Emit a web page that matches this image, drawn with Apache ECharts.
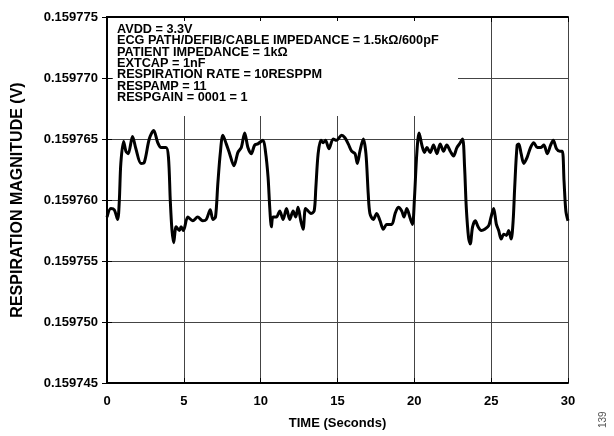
<!DOCTYPE html>
<html>
<head>
<meta charset="utf-8">
<style>
  html, body { margin: 0; padding: 0; background: #fff; }
  #chart { width: 614px; height: 436px; }
</style>
<script src="https://cdn.jsdelivr.net/npm/echarts@6/dist/echarts.min.js"></script>
</head>
<body>
<div id="chart"></div>
<script>
// time (s) and respiration magnitude (V)
const times = [
  0.00, 0.25, 0.47, 0.69, 0.80, 0.90, 1.08, 1.23, 1.38, 1.66, 1.88, 2.21, 2.43, 2.75, 3.04, 3.30, 3.52, 3.84,
  4.00, 4.12, 4.23, 4.34, 4.50, 4.71, 4.82, 4.97, 5.26, 5.58, 5.90, 6.23, 6.46, 6.72, 6.89, 7.06, 7.21, 7.37,
  7.54, 7.76, 7.98, 8.26, 8.52, 8.74, 8.96, 9.17, 9.39, 9.61, 9.82, 10.15, 10.31, 10.48, 10.59, 10.70, 10.80,
  11.02, 11.24, 11.46, 11.68, 11.89, 12.11, 12.28, 12.43, 12.61, 12.76, 12.92, 13.09, 13.26, 13.48, 13.59,
  13.74, 13.92, 14.07, 14.22, 14.44, 14.72, 14.94, 15.27, 15.48, 15.70, 15.92, 16.14, 16.29, 16.46, 16.68,
  16.85, 17.00, 17.11, 17.33, 17.55, 17.77, 17.98, 18.20, 18.53, 18.75, 18.96, 19.18, 19.33, 19.51, 19.73,
  19.88, 20.01, 20.16, 20.31, 20.49, 20.66, 20.82, 21.03, 21.25, 21.47, 21.68, 21.90, 22.11, 22.34, 22.55,
  22.77, 22.94, 23.14, 23.27, 23.38, 23.53, 23.64, 23.79, 23.97, 24.15, 24.36, 24.58, 24.84, 24.99, 25.16,
  25.34, 25.49, 25.65, 25.82, 25.99, 26.14, 26.30, 26.43, 26.53, 26.69, 26.80, 26.95, 27.12, 27.34, 27.56,
  27.77, 28.00, 28.21, 28.43, 28.65, 28.87, 29.04, 29.25, 29.47, 29.63, 29.74, 29.86, 30.00
];
const magnitude = [
  0.1597586, 0.1597593, 0.1597592, 0.1597584, 0.1597599, 0.1597630, 0.1597648, 0.1597640, 0.1597638, 0.1597652,
  0.1597642, 0.1597630, 0.1597631, 0.1597650, 0.1597657, 0.1597647, 0.1597643, 0.1597643,
  0.1597635, 0.1597599, 0.1597575, 0.1597565, 0.1597578, 0.1597575, 0.1597578, 0.1597575, 0.1597586, 0.1597583,
  0.1597586, 0.1597583, 0.1597584, 0.1597592, 0.1597584, 0.1597586, 0.1597613, 0.1597638,
  0.1597653, 0.1597646, 0.1597638, 0.1597628, 0.1597639, 0.1597643, 0.1597655, 0.1597643, 0.1597638, 0.1597645,
  0.1597646, 0.1597649, 0.1597640, 0.1597619, 0.1597594, 0.1597578, 0.1597586,
  0.1597586, 0.1597591, 0.1597584, 0.1597593, 0.1597584, 0.1597591, 0.1597586, 0.1597594, 0.1597583, 0.1597576,
  0.1597593, 0.1597591, 0.1597589, 0.1597591, 0.1597610,
  0.1597638, 0.1597649, 0.1597647, 0.1597649, 0.1597642, 0.1597650, 0.1597649, 0.1597653, 0.1597651, 0.1597646,
  0.1597640, 0.1597638, 0.1597630, 0.1597640, 0.1597650,
  0.1597638, 0.1597605, 0.1597589, 0.1597584, 0.1597589, 0.1597583, 0.1597576, 0.1597580, 0.1597580, 0.1597589,
  0.1597594, 0.1597591, 0.1597586, 0.1597593, 0.1597585,
  0.1597580, 0.1597602, 0.1597638, 0.1597655, 0.1597645, 0.1597639, 0.1597643, 0.1597639, 0.1597645, 0.1597638,
  0.1597646, 0.1597640, 0.1597645, 0.1597640, 0.1597636,
  0.1597643, 0.1597646, 0.1597650, 0.1597627, 0.1597594, 0.1597569, 0.1597564, 0.1597578, 0.1597583, 0.1597578,
  0.1597575, 0.1597576, 0.1597579, 0.1597586, 0.1597593,
  0.1597580, 0.1597575, 0.1597568, 0.1597572, 0.1597571, 0.1597575, 0.1597568, 0.1597583, 0.1597610, 0.1597645,
  0.1597646, 0.1597638, 0.1597630, 0.1597635, 0.1597643,
  0.1597647, 0.1597643, 0.1597643, 0.1597645, 0.1597638, 0.1597645, 0.1597649, 0.1597642, 0.1597640, 0.1597640,
  0.1597616, 0.1597591, 0.1597583
];

const xTicks = [0, 5, 10, 15, 20, 25, 30];
const yTicks = [0.159745, 0.159750, 0.159755, 0.159760, 0.159765, 0.159770, 0.159775];

const notes = [
  'AVDD = 3.3V',
  'ECG PATH/DEFIB/CABLE IMPEDANCE = 1.5kΩ/600pF',
  'PATIENT IMPEDANCE = 1kΩ',
  'EXTCAP = 1nF',
  'RESPIRATION RATE = 10RESPPM',
  'RESPAMP = 11',
  'RESPGAIN = 0001 = 1'
];

const chart = echarts.init(document.getElementById('chart'));

const font = 'Liberation Sans, Arial, sans-serif';
const labelStyle = { color: '#000', fontFamily: font, fontWeight: 'bold', fontSize: 13 };
const frameLine = { show: true, lineStyle: { color: '#000', width: 2 } };
const insideTick = { show: true, inside: true, length: 5, lineStyle: { color: '#000', width: 1 } };

const option = {
  animation: false,
  grid: {
    left: 107,
    right: 46,
    top: 17,
    bottom: 53,
    outerBoundsMode: 'none'
  },
  xAxis: [{
    type: 'value',
    min: xTicks[0],
    max: xTicks[xTicks.length - 1],
    interval: 5,
    axisLine: frameLine,
    axisTick: insideTick,
    axisLabel: Object.assign({ margin: 12 }, labelStyle),
    splitLine: { show: true, lineStyle: { color: '#444', width: 1 } },
    name: 'TIME (Seconds)',
    nameLocation: 'middle',
    nameGap: 34,
    nameTextStyle: { color: '#000', fontFamily: font, fontWeight: 'bold', fontSize: 13 }
  }, {
    type: 'value',
    position: 'top',
    min: xTicks[0],
    max: xTicks[xTicks.length - 1],
    interval: 5,
    axisLine: frameLine,
    axisTick: insideTick,
    axisLabel: { show: false },
    splitLine: { show: false }
  }],
  yAxis: [{
    type: 'value',
    min: yTicks[0],
    max: yTicks[yTicks.length - 1],
    interval: 0.000005,
    axisLine: frameLine,
    axisTick: insideTick,
    axisLabel: Object.assign({
      margin: 9,
      formatter: v => v.toFixed(6)
    }, labelStyle),
    splitLine: { show: true, lineStyle: { color: '#444', width: 1 } },
    name: 'RESPIRATION MAGNITUDE (V)',
    nameLocation: 'middle',
    nameGap: 81,
    nameTextStyle: { color: '#000', fontFamily: font, fontWeight: 'bold', fontSize: 16 }
  }, {
    type: 'value',
    position: 'right',
    min: yTicks[0],
    max: yTicks[yTicks.length - 1],
    interval: 0.000005,
    axisLine: frameLine,
    axisTick: insideTick,
    axisLabel: { show: false },
    splitLine: { show: false }
  }],
  graphic: [{
    type: 'rect',
    shape: { x: 113, y: 21, width: 345, height: 95 },
    style: { fill: '#fff' },
    z: 5
  }, {
    type: 'text',
    x: 117,
    y: 24,
    z: 6,
    style: {
      text: notes.join('\n'),
      fill: '#000',
      font: 'bold 12.7px ' + font,
      lineHeight: 11.3
    }
  }, {
    type: 'text',
    x: 598,
    y: 428,
    rotation: Math.PI / 2,
    z: 6,
    style: {
      text: '139',
      fill: '#555',
      font: '10px ' + font
    }
  }],
  series: [{
    type: 'line',
    data: times.map((t, i) => [t, magnitude[i]]),
    showSymbol: false,
    smooth: 0.3,
    lineStyle: { color: '#000', width: 3 },
    z: 10
  }]
};

chart.setOption(option);
</script>
</body>
</html>
